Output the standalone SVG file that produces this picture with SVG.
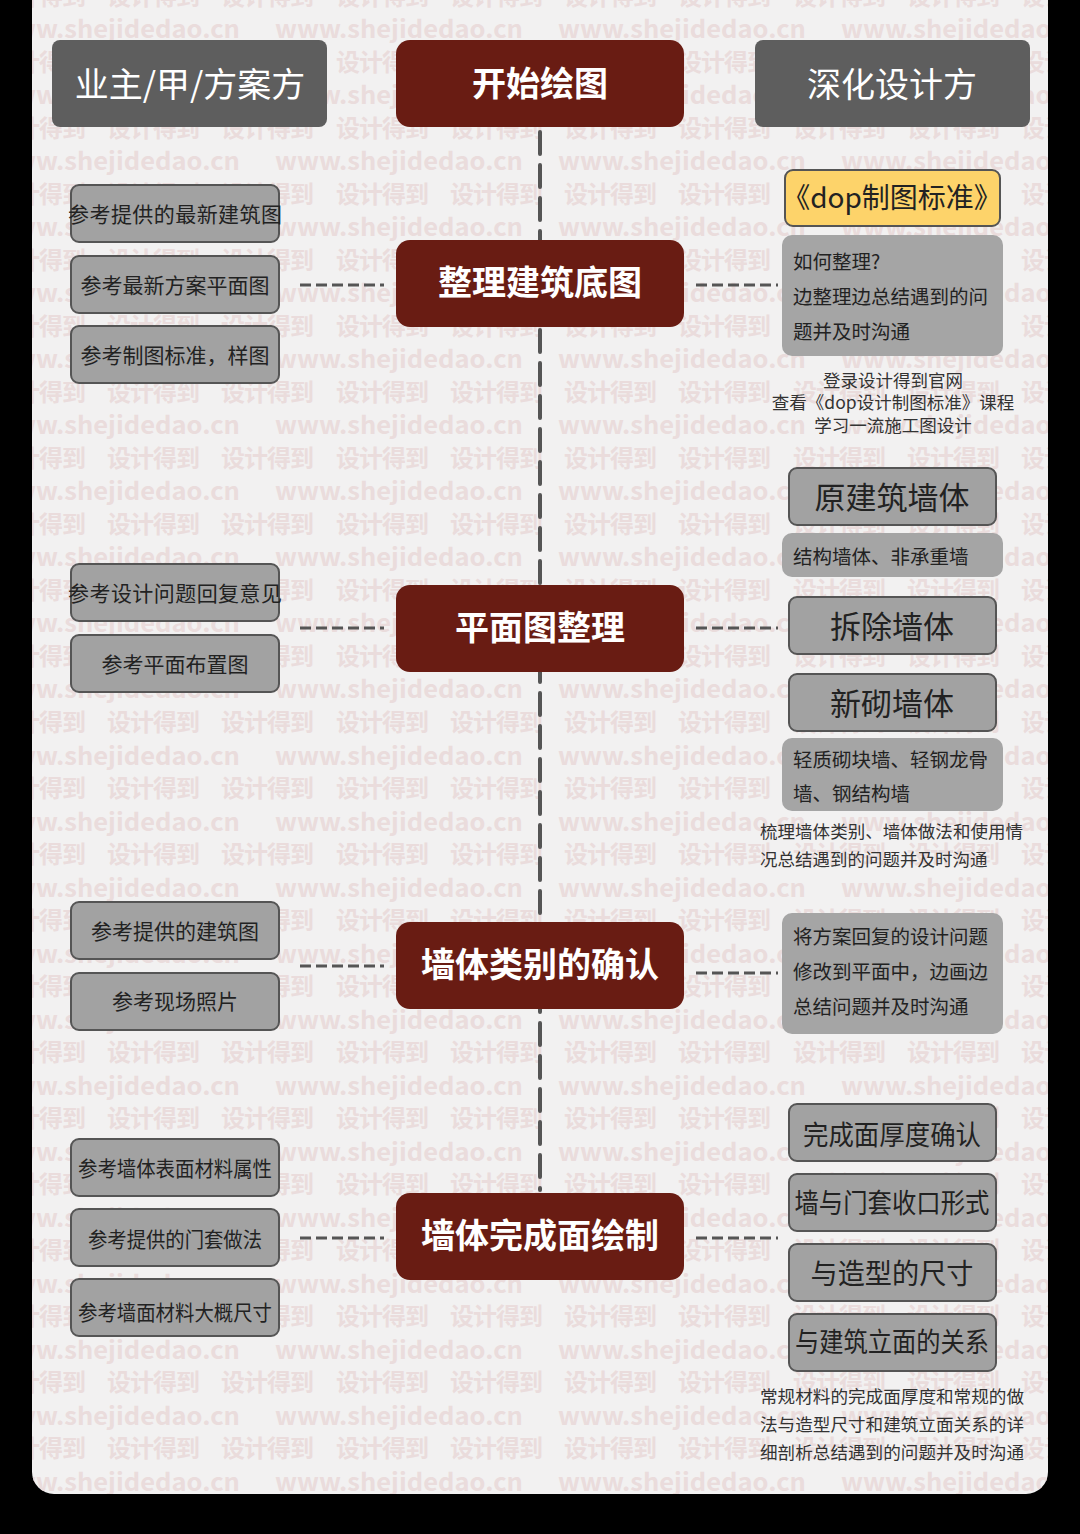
<svg xmlns="http://www.w3.org/2000/svg" xmlns:xlink="http://www.w3.org/1999/xlink" width="1080" height="1534" viewBox="0 0 1080 1534">
<style>
.wm{font-family:"Noto Sans CJK SC","DejaVu Sans",sans-serif;font-weight:700;font-size:24px;fill:#eadcdc}
.hdr{fill:#5e5e5e}
.red{fill:#691c13}
.box{fill:#a2a2a2;stroke:#555;stroke-width:2}
.note{fill:#a5a5a5}
.t{font-family:"Noto Sans CJK SC","Noto Sans",sans-serif}
.wt{fill:#fff;font-size:34px}
.bt{fill:#fff;font-size:34px;font-weight:700}
.lt{fill:#222;font-size:21px}
.rt{fill:#222;font-size:31px}
.nt{fill:#222;font-size:19.5px}
.pt{fill:#333;font-size:17.5px}
.mid{text-anchor:middle;dominant-baseline:central}
.lft{dominant-baseline:central}
.vline{stroke:#555;stroke-width:4;stroke-dasharray:22 11;stroke-linecap:round;fill:none}
.hline{stroke:#555;stroke-width:3;stroke-dasharray:11 5;fill:none}
</style>
<defs>
<clipPath id="panelClip"><rect x="32" y="-30" width="1016" height="1524" rx="22"/></clipPath>
<g id="wmA">
<text class="wm" x="-8" textLength="248" lengthAdjust="spacingAndGlyphs">www.shejidedao.cn</text>
<text class="wm" x="275" textLength="248" lengthAdjust="spacingAndGlyphs">www.shejidedao.cn</text>
<text class="wm" x="558" textLength="248" lengthAdjust="spacingAndGlyphs">www.shejidedao.cn</text>
<text class="wm" x="841" textLength="248" lengthAdjust="spacingAndGlyphs">www.shejidedao.cn</text>
</g>
<g id="wmB">
<text class="wm" x="-7" textLength="93">设计得到</text>
<text class="wm" x="107" textLength="93">设计得到</text>
<text class="wm" x="221" textLength="93">设计得到</text>
<text class="wm" x="336" textLength="93">设计得到</text>
<text class="wm" x="450" textLength="93">设计得到</text>
<text class="wm" x="564" textLength="93">设计得到</text>
<text class="wm" x="678" textLength="93">设计得到</text>
<text class="wm" x="793" textLength="93">设计得到</text>
<text class="wm" x="907" textLength="93">设计得到</text>
<text class="wm" x="1021" textLength="93">设计得到</text>
</g>
</defs>
<rect x="0" y="0" width="1080" height="1534" fill="#000"/>
<rect x="32" y="-30" width="1016" height="1524" rx="22" fill="#f2f1f1"/>
<g id="watermark" clip-path="url(#panelClip)">
<use xlink:href="#wmB" y="5"/><use xlink:href="#wmA" y="38"/>
<use xlink:href="#wmB" y="71"/><use xlink:href="#wmA" y="104"/>
<use xlink:href="#wmB" y="137"/><use xlink:href="#wmA" y="170"/>
<use xlink:href="#wmB" y="203"/><use xlink:href="#wmA" y="236"/>
<use xlink:href="#wmB" y="269"/><use xlink:href="#wmA" y="302"/>
<use xlink:href="#wmB" y="335"/><use xlink:href="#wmA" y="368"/>
<use xlink:href="#wmB" y="401"/><use xlink:href="#wmA" y="434"/>
<use xlink:href="#wmB" y="467"/><use xlink:href="#wmA" y="500"/>
<use xlink:href="#wmB" y="533"/><use xlink:href="#wmA" y="566"/>
<use xlink:href="#wmB" y="599"/><use xlink:href="#wmA" y="632"/>
<use xlink:href="#wmB" y="665"/><use xlink:href="#wmA" y="698"/>
<use xlink:href="#wmB" y="731"/><use xlink:href="#wmA" y="765"/>
<use xlink:href="#wmB" y="797"/><use xlink:href="#wmA" y="831"/>
<use xlink:href="#wmB" y="863"/><use xlink:href="#wmA" y="897"/>
<use xlink:href="#wmB" y="929"/><use xlink:href="#wmA" y="963"/>
<use xlink:href="#wmB" y="995"/><use xlink:href="#wmA" y="1029"/>
<use xlink:href="#wmB" y="1061"/><use xlink:href="#wmA" y="1095"/>
<use xlink:href="#wmB" y="1127"/><use xlink:href="#wmA" y="1161"/>
<use xlink:href="#wmB" y="1193"/><use xlink:href="#wmA" y="1227"/>
<use xlink:href="#wmB" y="1259"/><use xlink:href="#wmA" y="1293"/>
<use xlink:href="#wmB" y="1325"/><use xlink:href="#wmA" y="1359"/>
<use xlink:href="#wmB" y="1391"/><use xlink:href="#wmA" y="1425"/>
<use xlink:href="#wmB" y="1457"/><use xlink:href="#wmA" y="1491"/>
</g>

<g id="connectors">
<line class="vline" x1="540" y1="132" x2="540" y2="1190"/>
<line class="hline" x1="300" y1="285" x2="384" y2="285"/>
<line class="hline" x1="696" y1="285" x2="778" y2="285"/>
<line class="hline" x1="300" y1="628" x2="384" y2="628"/>
<line class="hline" x1="696" y1="628" x2="778" y2="628"/>
<line class="hline" x1="300" y1="966" x2="384" y2="966"/>
<line class="hline" x1="696" y1="973" x2="778" y2="973"/>
<line class="hline" x1="300" y1="1238" x2="384" y2="1238"/>
<line class="hline" x1="696" y1="1238" x2="778" y2="1238"/>
</g>

<g id="header-owner"><rect class="hdr" x="52" y="40" width="275" height="87" rx="8"/><text class="t wt mid" x="190" y="82">业主/甲/方案方</text></g>
<g id="header-start"><rect class="red" x="396" y="40" width="288" height="87" rx="14"/><text class="t bt mid" x="540" y="81">开始绘图</text></g>
<g id="header-deep"><rect class="hdr" x="755" y="40" width="275" height="87" rx="8"/><text class="t wt mid" x="892" y="82">深化设计方</text></g>

<g id="main-1"><rect class="red" x="396" y="240" width="288" height="87" rx="14"/><text class="t bt mid" x="540" y="280">整理建筑底图</text></g>
<g id="main-2"><rect class="red" x="396" y="585" width="288" height="87" rx="14"/><text class="t bt mid" x="540" y="625">平面图整理</text></g>
<g id="main-3"><rect class="red" x="396" y="922" width="288" height="87" rx="14"/><text class="t bt mid" x="540" y="962">墙体类别的确认</text></g>
<g id="main-4"><rect class="red" x="396" y="1193" width="288" height="87" rx="14"/><text class="t bt mid" x="540" y="1233">墙体完成面绘制</text></g>

<g id="l1"><rect class="box" x="71" y="185" width="208" height="57" rx="8"/><text class="t lt mid" x="175" y="213" textLength="214">参考提供的最新建筑图</text></g>
<g id="l2"><rect class="box" x="71" y="256" width="208" height="57" rx="8"/><text class="t lt mid" x="175" y="284">参考最新方案平面图</text></g>
<g id="l3"><rect class="box" x="71" y="326" width="208" height="57" rx="8"/><text class="t lt mid" x="175" y="354">参考制图标准，样图</text></g>
<g id="l4"><rect class="box" x="71" y="564" width="208" height="57" rx="8"/><text class="t lt mid" x="175" y="592" textLength="214">参考设计问题回复意见</text></g>
<g id="l5"><rect class="box" x="71" y="635" width="208" height="57" rx="8"/><text class="t lt mid" x="175" y="663">参考平面布置图</text></g>
<g id="l6"><rect class="box" x="71" y="902" width="208" height="57" rx="8"/><text class="t lt mid" x="175" y="930">参考提供的建筑图</text></g>
<g id="l7"><rect class="box" x="71" y="973" width="208" height="57" rx="8"/><text class="t lt mid" x="175" y="1000">参考现场照片</text></g>
<g id="l8"><rect class="box" x="71" y="1139" width="208" height="57" rx="8"/><text class="t lt mid" x="175" y="1167" textLength="194" lengthAdjust="spacingAndGlyphs">参考墙体表面材料属性</text></g>
<g id="l9"><rect class="box" x="71" y="1209" width="208" height="57" rx="8"/><text class="t lt mid" x="175" y="1238" textLength="174" lengthAdjust="spacingAndGlyphs">参考提供的门套做法</text></g>
<g id="l10"><rect class="box" x="71" y="1279" width="208" height="57" rx="8"/><text class="t lt mid" x="175" y="1311" textLength="194" lengthAdjust="spacingAndGlyphs">参考墙面材料大概尺寸</text></g>

<g id="r-std"><rect x="785" y="170" width="215" height="56" rx="8" fill="#fdd36a" stroke="#555" stroke-width="2"/><text class="t mid" x="892" y="196" font-size="28" fill="#222">《dop制图标准》</text></g>
<g id="r-note1"><rect class="note" x="782" y="235" width="221" height="121" rx="10"/>
<text class="t nt lft" x="793" y="260">如何整理?</text>
<text class="t nt lft" x="793" y="295">边整理边总结遇到的问</text>
<text class="t nt lft" x="793" y="330">题并及时沟通</text></g>
<g id="r-text1">
<text class="t pt mid" x="893" y="379">登录设计得到官网</text>
<text class="t pt mid" x="893" y="401">查看《dop设计制图标准》课程</text>
<text class="t pt mid" x="893" y="424">学习一流施工图设计</text></g>

<g id="r-wall1"><rect class="box" x="789" y="468" width="207" height="57" rx="8"/><text class="t rt mid" x="892" y="495">原建筑墙体</text></g>
<g id="r-note2"><rect class="note" x="782" y="533" width="221" height="44" rx="10"/><text class="t nt lft" x="793" y="555">结构墙体、非承重墙</text></g>
<g id="r-wall2"><rect class="box" x="789" y="597" width="207" height="57" rx="8"/><text class="t rt mid" x="892" y="624">拆除墙体</text></g>
<g id="r-wall3"><rect class="box" x="789" y="674" width="207" height="57" rx="8"/><text class="t rt mid" x="892" y="701">新砌墙体</text></g>
<g id="r-note3"><rect class="note" x="782" y="738" width="221" height="73" rx="10"/>
<text class="t nt lft" x="793" y="758">轻质砌块墙、轻钢龙骨</text>
<text class="t nt lft" x="793" y="792">墙、钢结构墙</text></g>
<g id="r-text2">
<text class="t pt lft" x="760" y="830" textLength="263">梳理墙体类别、墙体做法和使用情</text>
<text class="t pt lft" x="760" y="858">况总结遇到的问题并及时沟通</text></g>

<g id="r-note4"><rect class="note" x="782" y="913" width="221" height="121" rx="10"/>
<text class="t nt lft" x="793" y="935">将方案回复的设计问题</text>
<text class="t nt lft" x="793" y="970">修改到平面中，边画边</text>
<text class="t nt lft" x="793" y="1005">总结问题并及时沟通</text></g>

<g id="r-f1"><rect class="box" x="789" y="1104" width="207" height="57" rx="8"/><text class="t mid" x="892" y="1133" font-size="27" fill="#222" textLength="178" lengthAdjust="spacingAndGlyphs">完成面厚度确认</text></g>
<g id="r-f2"><rect class="box" x="789" y="1174" width="207" height="57" rx="8"/><text class="t mid" x="892" y="1201" font-size="27" fill="#222" textLength="195" lengthAdjust="spacingAndGlyphs">墙与门套收口形式</text></g>
<g id="r-f3"><rect class="box" x="789" y="1244" width="207" height="57" rx="8"/><text class="t mid" x="892" y="1272" font-size="28" fill="#222" textLength="163" lengthAdjust="spacingAndGlyphs">与造型的尺寸</text></g>
<g id="r-f4"><rect class="box" x="789" y="1314" width="207" height="57" rx="8"/><text class="t mid" x="892" y="1340" font-size="27" fill="#222" textLength="194" lengthAdjust="spacingAndGlyphs">与建筑立面的关系</text></g>
<g id="r-text3">
<text class="t pt lft" x="760" y="1395" textLength="264" lengthAdjust="spacingAndGlyphs">常规材料的完成面厚度和常规的做</text>
<text class="t pt lft" x="760" y="1423" textLength="264" lengthAdjust="spacingAndGlyphs">法与造型尺寸和建筑立面关系的详</text>
<text class="t pt lft" x="760" y="1451" textLength="264" lengthAdjust="spacingAndGlyphs">细剖析总结遇到的问题并及时沟通</text></g>
</svg>
